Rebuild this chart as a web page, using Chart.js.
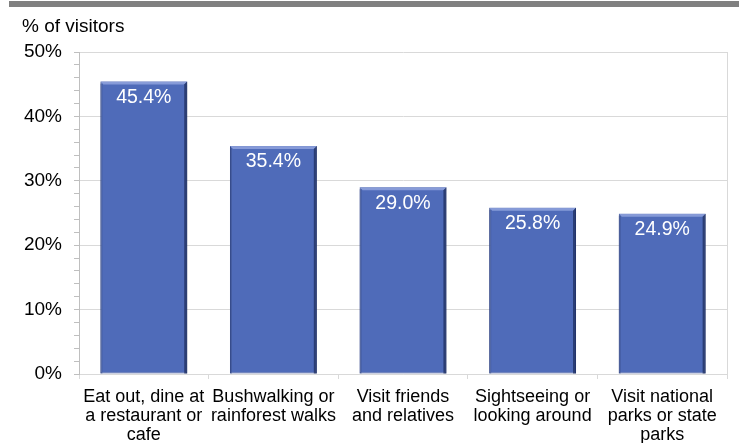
<!DOCTYPE html>
<html>
<head>
<meta charset="utf-8">
<script src="https://cdn.jsdelivr.net/npm/chart.js@4.4.1/dist/chart.umd.min.js"></script>
<style>
  html, body { margin: 0; padding: 0; background: #fff; }
  #wrap { width: 744px; height: 443px; }
</style>
</head>
<body>
<div id="wrap"><canvas id="chart-canvas" width="744" height="443"></canvas></div>
<script>
// data dari gambar
const categories = [
  ["Eat out, dine at", "a restaurant or", "cafe"],
  ["Bushwalking or", "rainforest walks"],
  ["Visit friends", "and relatives"],
  ["Sightseeing or", "looking around"],
  ["Visit national", "parks or state", "parks"],
];
const visitorShare = [45.4, 35.4, 29.0, 25.8, 24.9];
const yTickLabels = ["0%", "10%", "20%", "30%", "40%", "50%"];
const axisTitle = "% of visitors";

const FONT = "'Liberation Sans', Arial, sans-serif";

// garis abu-abu di atas, judul sumbu, bingkai kanan
const decorPlugin = {
  id: "decor",
  beforeDraw(chart) {
    const { ctx } = chart;
    ctx.save();
    ctx.fillStyle = "#808080";
    ctx.fillRect(9, 1, 730, 6);
    ctx.fillStyle = "#000";
    ctx.font = "19px " + FONT;
    ctx.textBaseline = "alphabetic";
    ctx.textAlign = "left";
    ctx.fillText(axisTitle, 22, 32);
    ctx.restore();
  },
  afterDraw(chart) {
    const { ctx, chartArea } = chart;
    ctx.save();
    ctx.strokeStyle = "#d9d9d9";
    ctx.lineWidth = 1;
    ctx.beginPath();
    ctx.moveTo(chartArea.right + 0.5, chartArea.top);
    ctx.lineTo(chartArea.right + 0.5, chartArea.bottom);
    ctx.stroke();
    ctx.restore();
  },
};

// efek bevel + label nilai di dalam batang
const barPlugin = {
  id: "barBevel",
  afterDatasetsDraw(chart) {
    const { ctx } = chart;
    const meta = chart.getDatasetMeta(0);
    ctx.save();
    meta.data.forEach((bar, i) => {
      const l = bar.x - bar.width / 2;
      const r = bar.x + bar.width / 2;
      const t = bar.y;
      const b = bar.base;
      // sisi atas terang
      ctx.fillStyle = "rgba(140,160,220,0.9)";
      ctx.beginPath();
      ctx.moveTo(l, t);
      ctx.lineTo(r, t);
      ctx.lineTo(r - 3, t + 3);
      ctx.lineTo(l + 3, t + 3);
      ctx.closePath();
      ctx.fill();
      // sisi kanan gelap
      ctx.fillStyle = "rgba(30,45,95,0.75)";
      ctx.beginPath();
      ctx.moveTo(r, t);
      ctx.lineTo(r, b);
      ctx.lineTo(r - 3, b);
      ctx.lineTo(r - 3, t + 3);
      ctx.closePath();
      ctx.fill();
      // sisi kiri sedikit gelap
      ctx.fillStyle = "rgba(60,80,140,0.5)";
      ctx.fillRect(l, t + 2, 2, b - t - 2);
      // label
      ctx.fillStyle = "#fff";
      ctx.font = "19.5px " + FONT;
      ctx.textAlign = "center";
      ctx.textBaseline = "middle";
      ctx.fillText(visitorShare[i].toFixed(1) + "%", bar.x, t + 16);
    });
    ctx.restore();
  },
};

const ctx = document.getElementById("chart-canvas").getContext("2d");
new Chart(ctx, {
  type: "bar",
  data: {
    labels: categories,
    datasets: [
      {
        label: axisTitle,
        data: visitorShare,
        backgroundColor: "#4f6bb9",
        borderColor: "#34498a",
        borderWidth: 1,
        borderSkipped: false,
        categoryPercentage: 1,
        barPercentage: 0.67,
      },
    ],
  },
  options: {
    responsive: false,
    animation: false,
    layout: { padding: { top: 52, right: 17, left: 0, bottom: 0 } },
    plugins: {
      legend: { display: false },
      tooltip: { enabled: false },
    },
    scales: {
      x: {
        grid: {
          offset: true,
          drawOnChartArea: false,
          drawTicks: true,
          tickLength: 5,
          tickColor: "#d9d9d9",
        },
        border: { color: "#d9d9d9", width: 1 },
        ticks: {
          color: "#000",
          font: { family: FONT, size: 18, lineHeight: 1.06 },
          padding: 8,
          maxRotation: 0,
          autoSkip: false,
        },
        afterFit: (scale) => { scale.height = 69; },
      },
      y: {
        min: 0,
        max: 50,
        grid: {
          color: (c) => (c.tick && c.tick.value % 10 === 0 ? "#d9d9d9" : "rgba(0,0,0,0)"),
          tickColor: "#bfbfbf",
          tickLength: 5,
        },
        border: { color: "#bfbfbf", width: 1 },
        ticks: {
          stepSize: 2,
          autoSkip: false,
          color: "#000",
          font: { family: FONT, size: 19 },
          padding: 12,
          callback: (v) => (v % 10 === 0 ? yTickLabels[v / 10] : ""),
        },
        afterFit: (scale) => { scale.width = 79; },
      },
    },
  },
  plugins: [decorPlugin, barPlugin],
});
</script>
</body>
</html>
